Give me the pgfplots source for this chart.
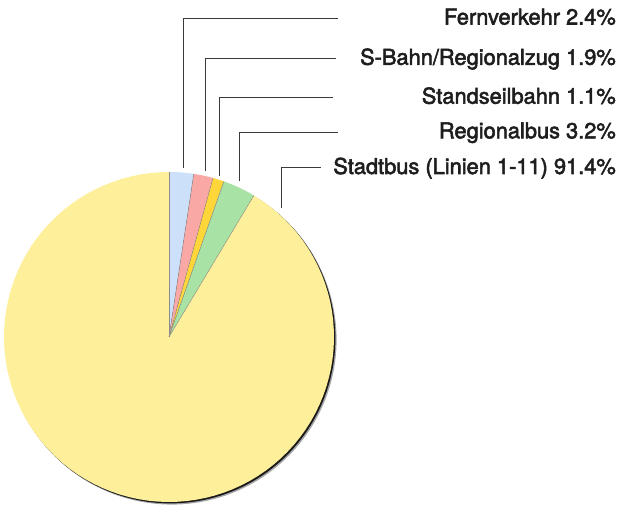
\documentclass[border=0pt]{standalone}
\usepackage{pgfplots}
\pgfplotsset{compat=1.18}
\usepackage{pgfplotstable}
\usepackage{fontspec}
\setmainfont{TeX Gyre Heros}
\newfontface\labfont{TeX Gyre Heros}
\newcommand\emb[1]{\special{pdf:literal direct 2 Tr 0.55 w}#1\special{pdf:literal direct 0 Tr}}
\definecolor{cFern}{HTML}{CDE0FA}
\definecolor{cSBahn}{HTML}{F9A8A5}
\definecolor{cStand}{HTML}{FFD63A}
\definecolor{cRegio}{HTML}{A8E2A5}
\definecolor{cStadt}{HTML}{FEF09B}
\definecolor{txt}{HTML}{1E1E1E}
\definecolor{lead}{HTML}{3A3A3A}
\pgfplotstableread{
share col
2.4 cFern
1.9 cSBahn
1.1 cStand
3.2 cRegio
91.4 cStadt
}\piedata
\begin{document}
\begin{tikzpicture}
\begin{axis}[
  x=1bp, y=1bp,
  xmin=-169, xmax=450, ymin=-170, ymax=337,
  hide axis, clip=false,
]
\path (axis cs:-169,-170) rectangle (axis cs:450,337);
% soft shadow
\addplot[fill=black!35, draw=none, domain=0:360, samples=180, variable=\t] ({2.6+165*cos(t)},{-2.6+165*sin(t)}) -- cycle;
\addplot[fill=black!90, draw=none, domain=0:360, samples=180, variable=\t] ({1.4+165*cos(t)},{-1.4+165*sin(t)}) -- cycle;
% slices
\def\cum{0}
\pgfplotsforeachungrouped \i in {0,...,4}{%
  \pgfplotstablegetelem{\i}{share}\of\piedata
  \pgfmathsetmacro\sh{\pgfplotsretval}%
  \pgfplotstablegetelem{\i}{col}\of\piedata
  \edef\col{\pgfplotsretval}%
  \pgfmathsetmacro\aS{90-3.6*\cum}%
  \pgfmathsetmacro\aE{90-3.6*(\cum+\sh)}%
  \edef\temp{\noexpand\addplot[fill=\col, draw=none, domain=\aS:\aE, samples=100, variable=\noexpand\t] ({165*cos(\noexpand\t)},{165*sin(\noexpand\t)}) -- (axis cs:0,0) -- cycle;}%
  \temp
  \pgfmathsetmacro\cum{\cum+\sh}%
}
% slice borders
\def\cum{0}
\pgfplotsforeachungrouped \i in {0,...,4}{%
  \pgfplotstablegetelem{\i}{share}\of\piedata
  \pgfmathsetmacro\sh{\pgfplotsretval}%
  \pgfmathsetmacro\aS{90-3.6*\cum}%
  \pgfmathsetmacro\xs{165*cos(\aS)}%
  \pgfmathsetmacro\ys{165*sin(\aS)}%
  \edef\temp{\noexpand\addplot[draw=black!45, line width=0.4pt] coordinates {(0,0) (\xs,\ys)};}%
  \temp
  \pgfmathsetmacro\cum{\cum+\sh}%
}
% leader lines
\addplot[lead, line width=1bp] coordinates {(14.3,169) (14.3,318.3) (168.7,318.3)};
\addplot[lead, line width=1bp] coordinates {(36,166.3) (36,278.5) (167,278.5)};
\addplot[lead, line width=1bp] coordinates {(50.3,161) (50.3,239.3) (163.7,239.3)};
\addplot[lead, line width=1bp] coordinates {(70.3,156) (70.3,204.7) (169.3,204.7)};
\addplot[lead, line width=1bp] coordinates {(112.7,129) (112.7,169.7) (151.7,169.7)};
% labels
\begin{scope}[every node/.style={anchor=base east, inner sep=0pt, text=txt, font=\labfont\fontsize{21.9}{24}\selectfont}]
\node at (axis cs:447,312.5) {\emb{Fernverkehr 2.4\%}};
\node at (axis cs:447,272.2) {\emb{S-Bahn/Regionalzug 1.9\%}};
\node at (axis cs:447,233.3) {\emb{Standseilbahn 1.1\%}};
\node at (axis cs:447,198.7) {\emb{Regionalbus 3.2\%}};
\node at (axis cs:447,163) {\emb{Stadtbus (Linien 1-11) 91.4\%}};
\end{scope}
\end{axis}
\end{tikzpicture}
\end{document}
